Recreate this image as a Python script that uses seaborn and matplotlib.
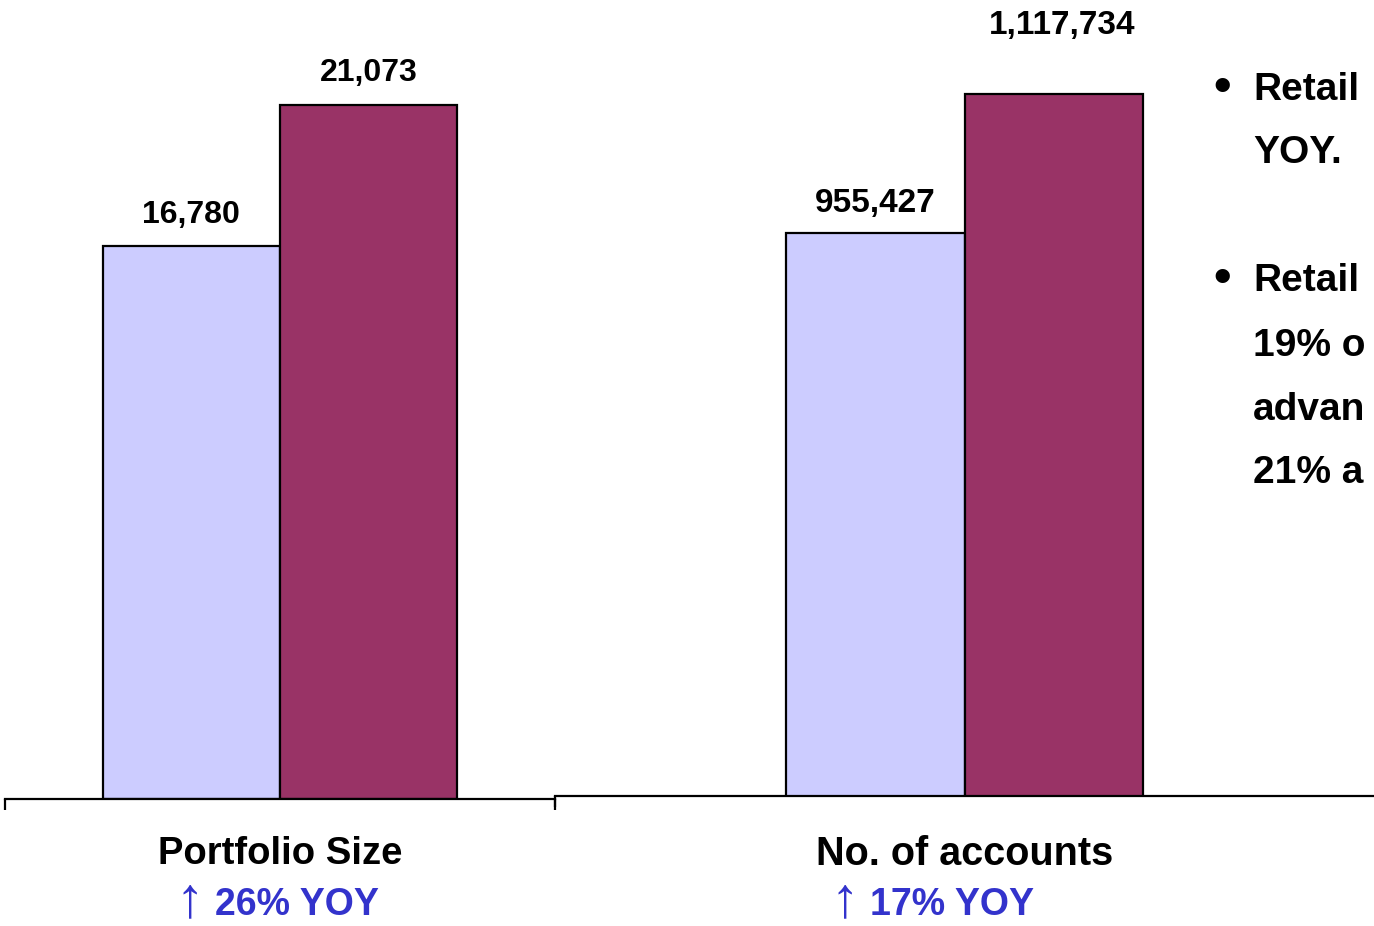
import matplotlib
matplotlib.use("Agg")
import matplotlib.pyplot as plt
import seaborn as sns
import pandas as pd

sns.set_style("white")
plt.rcParams['font.family'] = ['Liberation Sans', 'DejaVu Sans']
plt.rcParams['text.color'] = 'black'

# Data
years = ["Prior year", "Current year"]
portfolio_size = [16780, 21073]
num_accounts = [955427, 1117734]
categories = ["Portfolio Size", "No. of accounts"]
growth_texts = ["26% YOY", "17% YOY"]
arrow = "\u2191"
bullet_lines = ["Retail", "YOY.", "Retail", "19% o", "advan", "21% a"]

light = "#CCCCFF"
dark = "#993366"
blue = "#3333CC"

W, H = 1374, 926
fig = plt.figure(figsize=(W / 100, H / 100), dpi=100)

ax1 = fig.add_axes([5 / W, (H - 799) / H, 550 / W, 799 / H])
ax2 = fig.add_axes([555 / W, (H - 796) / H, 819 / W, 796 / H])

df1 = pd.DataFrame({"cat": [categories[0]] * 2, "val": portfolio_size, "year": years})
df2 = pd.DataFrame({"cat": [categories[1]] * 2, "val": num_accounts, "year": years})

sns.barplot(data=df1, x="cat", y="val", hue="year", palette=[light, dark],
            width=0.645, edgecolor="black", linewidth=1.6, legend=False, ax=ax1,
            saturation=1)
sns.barplot(data=df2, x="cat", y="val", hue="year", palette=[light, dark],
            width=0.437, edgecolor="black", linewidth=1.6, legend=False, ax=ax2,
            saturation=1)

ax1.set_ylim(0, 21073 * 799 / 694)
ax2.set_ylim(300000, 300000 + 1164.5 * 796)

for ax, pad, fs, mticks in ((ax1, 27, 27.5, [-0.5, 0.5]), (ax2, 28, 28.5, [-0.5])):
    ax.set_xlim(-0.5, 0.5)
    ax.set_facecolor("none")
    for s in ("left", "right", "top"):
        ax.spines[s].set_visible(False)
    ax.spines["bottom"].set_color("black")
    ax.spines["bottom"].set_linewidth(1.6)
    ax.set_yticks([])
    ax.set_ylabel("")
    ax.set_xlabel("")
    ax.set_xticks(mticks, minor=True)
    ax.tick_params(axis="x", which="minor", length=8, width=1.6, direction="out",
                   color="black", bottom=True)
    ax.tick_params(axis="x", which="major", length=0, pad=pad)
    for lab in ax.get_xticklabels():
        lab.set_fontsize(fs)
        lab.set_fontweight("bold")
        lab.set_color("black")

for cont in ax1.containers:
    ax1.bar_label(cont, fmt="{:,.0f}", padding=12, fontsize=23,
                  fontweight="bold", color="black")
ax2.bar_label(ax2.containers[0], fmt="{:,.0f}", padding=10, fontsize=24,
              fontweight="bold", color="black")
big = ax2.bar_label(ax2.containers[1], fmt="{:,.0f}", padding=38, fontsize=24,
                    fontweight="bold", color="black")
for a in big:
    a.xyann = (6, 38)

for i, (xa, xt) in enumerate(((190, 215), (845, 870))):
    fig.text(xa / W, 1 - 901 / H, arrow, color=blue, fontsize=41,
             fontweight="normal", ha="center", va="center")
    fig.text(xt / W, 1 - 905 / H, growth_texts[i], color=blue, fontsize=27,
             fontweight="bold", ha="left", va="center")

line_y = [90, 153, 281, 346, 410, 473]
bullets = [True, False, True, False, False, False]
for t, y, b in zip(bullet_lines, line_y, bullets):
    fig.text(1253 / W, 1 - y / H, t, fontsize=28, fontweight="bold",
             ha="left", va="center")
    if b:
        fig.text(1222 / W, 1 - (y - 2) / H, "\u2022", fontsize=36, fontweight="bold",
                 ha="center", va="center")

fig.savefig("out.png", dpi=100)
